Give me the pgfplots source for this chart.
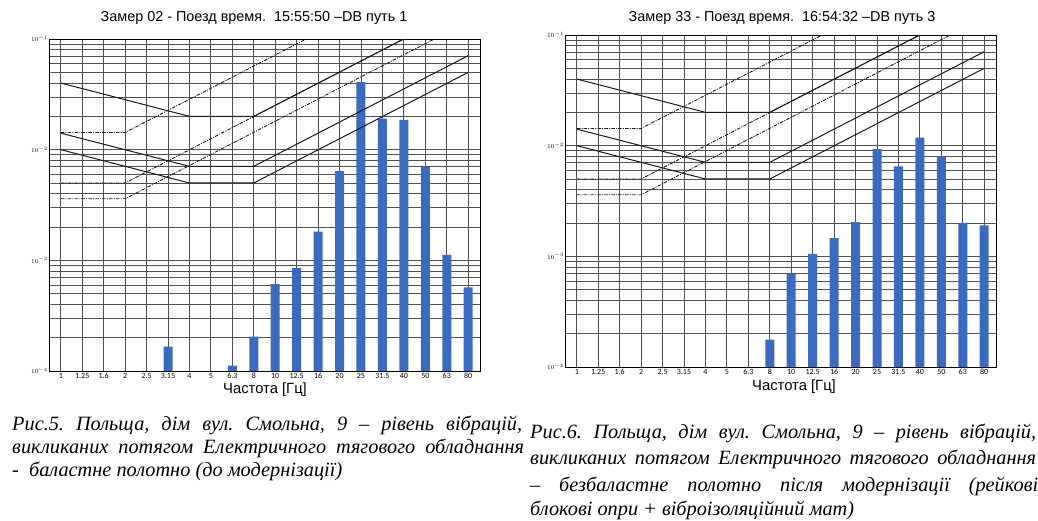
\documentclass[border=0pt]{standalone}
\usepackage{pgfplots}
\pgfplotsset{compat=1.18}
\usepackage{pgfplotstable}
\usepackage{fontspec}
\setmainfont{Liberation Serif}
\newfontfamily\arialfont{Liberation Sans}
\newfontfamily\tickfont{Carlito}
\definecolor{barblue}{RGB}{60,106,190}
\definecolor{gridgray}{RGB}{80,80,80}
\frenchspacing

\pgfplotstableread{
x y
5 1.66e-4
8 1.12e-4
9 2.05e-4
10 6.1e-4
11 8.5e-4
12 1.82e-3
13 6.4e-3
14 4.07e-2
15 1.91e-2
16 1.86e-2
17 7.0e-3
18 1.12e-3
19 5.7e-4
}\leftdata

\pgfplotstableread{
x y
9 1.77e-4
10 6.97e-4
11 1.05e-3
12 1.46e-3
13 2.04e-3
14 9.36e-3
15 6.5e-3
16 1.18e-2
17 8.0e-3
18 2.01e-3
19 1.9e-3
}\rightdata

\begin{document}
\begin{tikzpicture}[x=1pt,y=1pt]
\useasboundingbox (0,0) rectangle (1038,520);
\fill[white] (0,0) rectangle (1038,520);

\begin{semilogyaxis}[
    at={(49pt,149pt)}, anchor=south west, scale only axis,
    width=431pt, height=332pt,
    ymin=1e-4, ymax=1e-1, xmin=-0.55, xmax=19.55,
    log origin=infty,
    xtick={0,...,19},
    xticklabels={1,1.25,1.6,2,2.5,3.15,4,5,6.3,8,10,12.5,16,20,25,31.5,40,50,63,80},
    ytick={1e-4,1e-3,1e-2,1e-1},
    yticklabels={$10^{-4}$,$10^{-3}$,$10^{-2}$,$10^{-1}$},
    xmajorgrids, ymajorgrids, yminorgrids,
    major tick length=0pt, minor tick length=0pt,
    major grid style={gridgray, line width=0.9pt},
    minor grid style={gridgray, line width=0.7pt},
    axis line style={black, line width=1pt},
    xticklabel style={font=\tickfont\fontsize{8}{9}\selectfont, inner sep=2pt},
    yticklabel style={font=\fontsize{6.5}{7}\selectfont, inner sep=1pt},
  ]
  \addplot[ybar, bar width=9pt, fill=barblue, draw=none] table[x=x,y=y] {\leftdata};
  \addplot[black!90, line width=1pt] coordinates {(0,0.04) (6,0.02) (9,0.02) (19,0.2)};
  \addplot[black!90, line width=1pt] coordinates {(0,0.0141) (6,0.00707) (9,0.00707) (19,0.0707)};
  \addplot[black!90, line width=1pt] coordinates {(0,0.01) (6,0.005) (9,0.005) (19,0.05)};
  \addplot[black!90, line width=0.9pt, dash pattern=on 3.5pt off 1.2pt on 1pt off 1.2pt] coordinates {(0,0.0143) (3,0.0143) (19,0.57)};
  \addplot[black!90, line width=0.9pt, dash pattern=on 3.5pt off 1.2pt on 1pt off 1.2pt] coordinates {(0,0.005) (3,0.005) (19,0.2)};
  \addplot[black!90, line width=0.9pt, dash pattern=on 3.5pt off 1.2pt on 1pt off 1.2pt] coordinates {(0,0.0036) (3,0.0036) (19,0.144)};
\end{semilogyaxis}

\begin{semilogyaxis}[
    at={(565pt,153pt)}, anchor=south west, scale only axis,
    width=431pt, height=332pt,
    ymin=1e-4, ymax=1e-1, xmin=-0.55, xmax=19.55,
    log origin=infty,
    xtick={0,...,19},
    xticklabels={1,1.25,1.6,2,2.5,3.15,4,5,6.3,8,10,12.5,16,20,25,31.5,40,50,63,80},
    ytick={1e-4,1e-3,1e-2,1e-1},
    yticklabels={$10^{-4}$,$10^{-3}$,$10^{-2}$,$10^{-1}$},
    xmajorgrids, ymajorgrids, yminorgrids,
    major tick length=0pt, minor tick length=0pt,
    major grid style={gridgray, line width=0.9pt},
    minor grid style={gridgray, line width=0.7pt},
    axis line style={black, line width=1pt},
    xticklabel style={font=\tickfont\fontsize{8}{9}\selectfont, inner sep=2pt},
    yticklabel style={font=\fontsize{6.5}{7}\selectfont, inner sep=1pt},
  ]
  \addplot[ybar, bar width=9pt, fill=barblue, draw=none] table[x=x,y=y] {\rightdata};
  \addplot[black!90, line width=1pt] coordinates {(0,0.04) (6,0.02) (9,0.02) (19,0.2)};
  \addplot[black!90, line width=1pt] coordinates {(0,0.0141) (6,0.00707) (9,0.00707) (19,0.0707)};
  \addplot[black!90, line width=1pt] coordinates {(0,0.01) (6,0.005) (9,0.005) (19,0.05)};
  \addplot[black!90, line width=0.9pt, dash pattern=on 3.5pt off 1.2pt on 1pt off 1.2pt] coordinates {(0,0.0143) (3,0.0143) (19,0.57)};
  \addplot[black!90, line width=0.9pt, dash pattern=on 3.5pt off 1.2pt on 1pt off 1.2pt] coordinates {(0,0.005) (3,0.005) (19,0.2)};
  \addplot[black!90, line width=0.9pt, dash pattern=on 3.5pt off 1.2pt on 1pt off 1.2pt] coordinates {(0,0.0036) (3,0.0036) (19,0.144)};
\end{semilogyaxis}

% titles
\node[font=\arialfont\fontsize{14.4}{16}\selectfont] at (254,502) {Замер 02 - Поезд время.\ \ 15:55:50 –DB путь 1};
\node[font=\arialfont\fontsize{14.4}{16}\selectfont] at (782,502) {Замер 33 - Поезд время.\ \ 16:54:32 –DB путь 3};
% x labels
\node[font=\arialfont\fontsize{14.8}{16}\selectfont] at (265,130) {Частота [Гц]};
\node[font=\arialfont\fontsize{14.8}{16}\selectfont] at (794,133) {Частота [Гц]};

% captions
\begin{scope}[every node/.style={anchor=west, inner sep=0pt, font=\itshape\fontsize{20.3}{22}\selectfont}]
\node at (12,95) {\makebox[510pt][s]{Рис.5. Польща, дім вул. Смольна, 9 – рівень вібрацій,}};
\node at (12,72) {\makebox[512pt][s]{викликаних потягом Електричного тягового обладнання}};
\node at (12,49) {-\ \ баластне полотно (до модернізації)};
\node at (530,87) {\makebox[506pt][s]{Рис.6. Польща, дім вул. Смольна, 9 – рівень вібрацій,}};
\node at (530,61) {\makebox[506pt][s]{викликаних потягом Електричного тягового обладнання}};
\node at (530,34) {\makebox[508pt][s]{– безбаластне полотно після модернізації (рейкові}};
\node at (530,10) {блокові опри + віброізоляційний мат)};
\end{scope}
\end{tikzpicture}
\end{document}
